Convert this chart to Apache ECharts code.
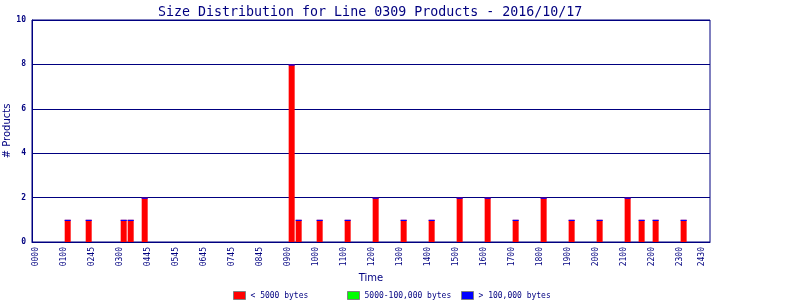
<!DOCTYPE html>
<html>
<head>
<meta charset="utf-8">
<script src="https://cdn.jsdelivr.net/npm/echarts@6/dist/echarts.min.js"></script>
<style>html,body{margin:0;padding:0;background:#fff;}#c{width:800px;height:300px;}</style>
</head>
<body>
<div id="c"></div>
<script>
// Bin start times (15-minute bins) that contain products
const binTimes = ["01:00","01:45","03:00","03:15","03:45","09:00","09:15","10:00","11:00","12:00","13:00","14:00","15:00","16:00","17:00","18:00","19:00","20:00","21:00","21:30","22:00","23:00"];
const smallCounts  = [1,1,1,1,2,8,1,1,1,2,1,1,2,2,1,2,1,1,2,1,1,1];
const mediumCounts = [0,0,0,0,0,0,0,0,0,0,0,0,0,0,0,0,0,0,0,0,0,0];
const largeCounts  = [0,0,0,0,0,0,0,0,0,0,0,0,0,0,0,0,0,0,0,0,0,0];
const seriesNames = ["< 5000 bytes", "5000-100,000 bytes", "> 100,000 bytes"];
const seriesColors = ["#ff0000", "#00ff00", "#0000ff"];
// x tick positions (minutes since midnight) and their labels
const tickMinutes = [0,60,120,180,240,300,360,420,480,540,600,660,720,780,840,900,960,1020,1080,1140,1200,1260,1320,1380,1427];
const tickLabels  = ["0000","0100","0245","0300","0445","0545","0645","0745","0845","0900","1000","1100","1200","1300","1400","1500","1600","1700","1800","1900","2000","2100","2200","2300","2430"];
const yTicks = [0,2,4,6,8,10];

const BIN = 15;
const BAR_W = 6;
function toMin(t){ const p = t.split(":"); return (+p[0])*60 + (+p[1]); }
function mk(vals){ return binTimes.map((t,i)=>[toMin(t)+BIN/2, vals[i]]); }
// stack tops, where the (zero-height) > 100,000 segment is drawn as a thin cap
const totals = smallCounts.map((v,i)=>v+mediumCounts[i]+largeCounts[i]);

const navy = '#000080';
const legendLefts = [233, 347, 461];
const legends = seriesNames.map((n,i)=>({
  left:legendLefts[i], top:291, padding:0,
  itemWidth:12, itemHeight:8, itemGap:4,
  icon:'rect',
  itemStyle:{borderColor:'#808080', borderWidth:1},
  textStyle:{fontFamily:'DejaVu Sans Mono', fontSize:8, color:navy},
  data:[n]
}));

const chart = echarts.init(document.getElementById('c'), null, {renderer:'canvas'});
chart.setOption({
  animation:false,
  backgroundColor:'#ffffff',
  title:{
    text:'Size Distribution for Line 0309 Products - 2016/10/17',
    left:153, top:1,
    textStyle:{fontFamily:'DejaVu Sans Mono', fontSize:13.3, fontWeight:'normal', color:navy}
  },
  legend:legends,
  grid:{left:32, right:90, top:20, bottom:58, show:true, borderColor:navy, borderWidth:1, backgroundColor:'#fff', outerBoundsMode:'none', containLabel:false},
  xAxis:{
    type:'value', min:-9, max:1444,
    name:'Time', nameLocation:'middle', nameGap:31, nameMoveOverlap:false,
    nameTextStyle:{fontFamily:'DejaVu Sans', fontSize:10, color:navy},
    axisLine:{show:true, onZero:false, lineStyle:{color:navy, width:1}},
    axisTick:{show:false},
    splitLine:{show:false},
    axisLabel:{
      customValues:tickMinutes,
      rotate:90, margin:5,
      fontFamily:'DejaVu Sans Mono', fontSize:8, color:navy,
      formatter:function(v){ const i = tickMinutes.indexOf(v); return i>=0 ? tickLabels[i] : ''; }
    }
  },
  yAxis:{
    type:'value', min:0, max:10, interval:2,
    name:'# Products', nameLocation:'middle', nameGap:20, nameMoveOverlap:false,
    nameTextStyle:{fontFamily:'DejaVu Sans', fontSize:10, color:navy},
    axisLine:{show:true, onZero:false, lineStyle:{color:navy, width:1}},
    axisTick:{show:false},
    splitLine:{show:true, lineStyle:{color:navy, width:1}},
    axisLabel:{
      margin:6, fontFamily:'DejaVu Sans Mono', fontSize:8, fontWeight:'bold', color:navy,
      formatter:function(v){ return yTicks.indexOf(v)>=0 ? String(v) : ''; }
    }
  },
  series:[
    {name:seriesNames[0], type:'bar', stack:'s', barWidth:BAR_W, data:mk(smallCounts), itemStyle:{color:seriesColors[0]}},
    {name:seriesNames[1], type:'bar', stack:'s', barWidth:BAR_W, data:mk(mediumCounts), itemStyle:{color:seriesColors[1]}},
    {name:seriesNames[2], type:'bar', stack:'s', barWidth:BAR_W, data:mk(largeCounts), itemStyle:{color:seriesColors[2]}},
    {type:'custom', silent:true, z:5, data:mk(totals),
     renderItem:function(params, api){
       const p = api.coord([api.value(0), api.value(1)]);
       return {type:'rect', shape:{x:p[0]-BAR_W/2, y:p[1], width:BAR_W, height:1.2}, style:{fill:seriesColors[2]}};
     }}
  ]
});
</script>
</body>
</html>
